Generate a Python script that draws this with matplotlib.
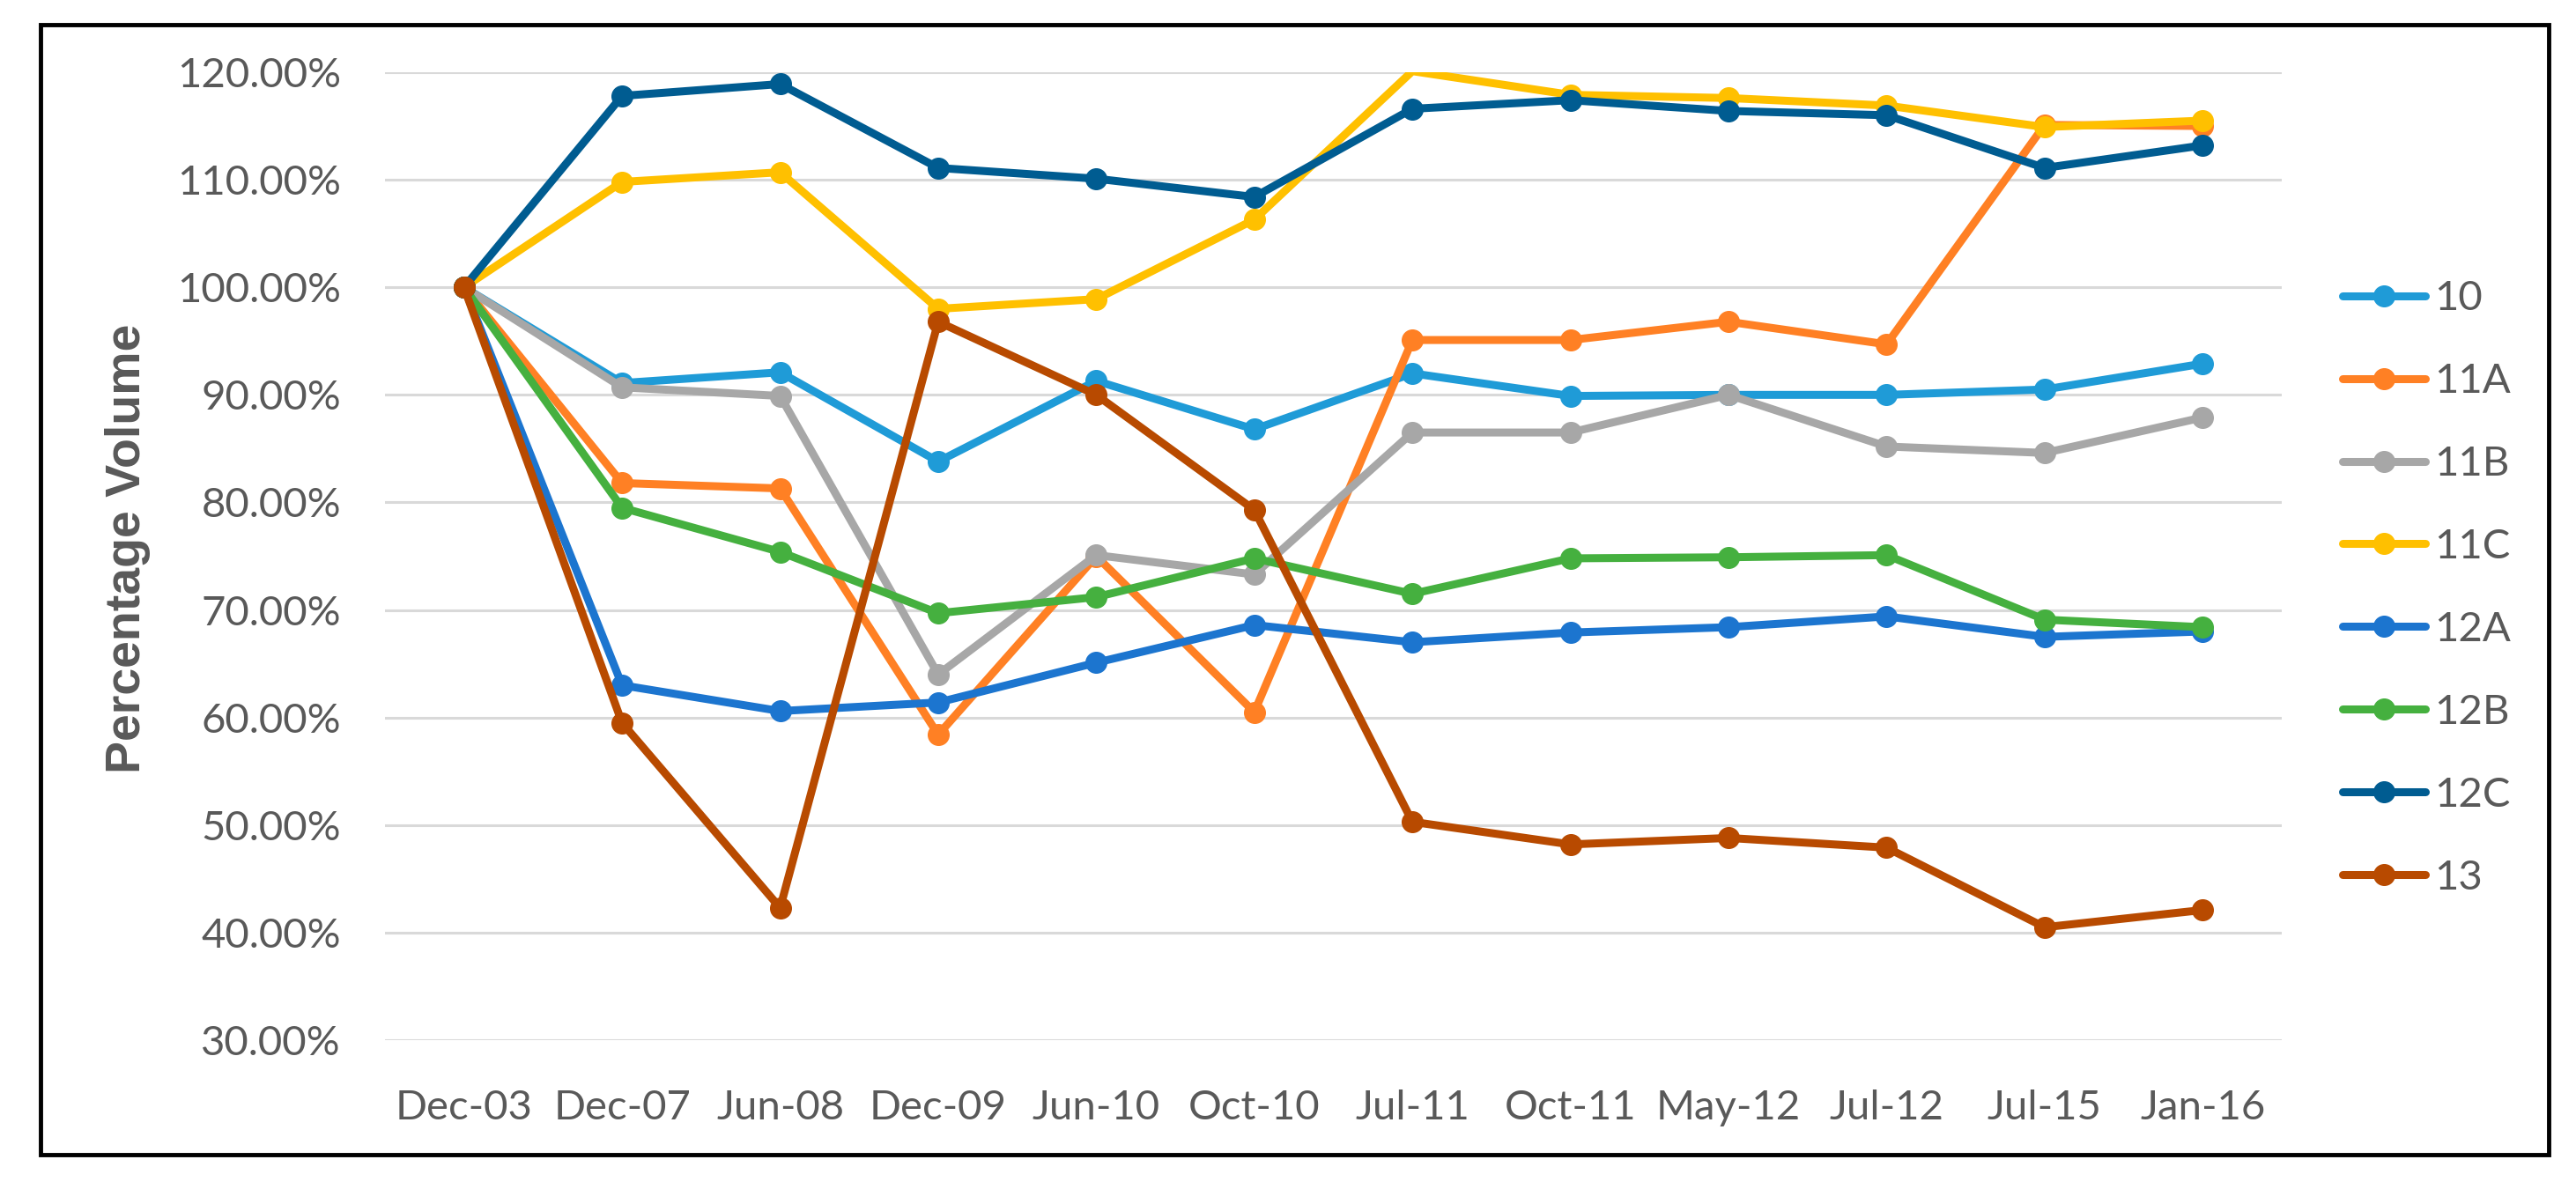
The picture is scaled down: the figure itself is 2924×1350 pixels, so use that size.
import matplotlib
matplotlib.use("Agg")
import matplotlib.pyplot as plt
from matplotlib.ticker import PercentFormatter
from matplotlib.patches import Rectangle

# x categories
dates = ["Dec-03", "Dec-07", "Jun-08", "Dec-09", "Jun-10", "Oct-10",
         "Jul-11", "Oct-11", "May-12", "Jul-12", "Jul-15", "Jan-16"]

# series values (fraction of Dec-03 volume)
s10 = [1.00, 0.911, 0.921, 0.838, 0.913, 0.868, 0.920, 0.899, 0.900, 0.900, 0.905, 0.929]
s11a = [1.00, 0.818, 0.813, 0.584, 0.750, 0.605, 0.951, 0.951, 0.968, 0.947, 1.151, 1.150]
s11b = [1.00, 0.907, 0.899, 0.640, 0.751, 0.733, 0.865, 0.865, 0.900, 0.852, 0.846, 0.879]
s11c = [1.00, 1.098, 1.107, 0.980, 0.989, 1.063, 1.201, 1.179, 1.176, 1.169, 1.149, 1.155]
s12a = [1.00, 0.630, 0.606, 0.614, 0.651, 0.686, 0.670, 0.679, 0.684, 0.694, 0.675, 0.680]
s12b = [1.00, 0.795, 0.754, 0.697, 0.712, 0.748, 0.715, 0.748, 0.749, 0.751, 0.691, 0.684]
s12c = [1.00, 1.178, 1.189, 1.111, 1.101, 1.084, 1.166, 1.174, 1.164, 1.160, 1.111, 1.132]
s13 = [1.00, 0.595, 0.423, 0.968, 0.900, 0.793, 0.503, 0.482, 0.488, 0.479, 0.405, 0.421]

labels = ["10", "11A", "11B", "11C", "12A", "12B", "12C", "13"]
series = [s10, s11a, s11b, s11c, s12a, s12b, s12c, s13]
colors = ["#1F9BD7", "#FF8024", "#A7A7A7", "#FFC000",
          "#1C75CF", "#45B03F", "#005C91", "#B84A00"]

W, H = 2924, 1350
YMIN, YMAX = 0.3, 1.2
fig = plt.figure(figsize=(W / 100, H / 100), dpi=100)
plt.rcParams["font.family"] = ["Lato", "DejaVu Sans"]

# plot area in pixels: left 437, right 2590, top 82, bottom 1181
ax = fig.add_axes([437 / W, 1 - 1181 / H, (2590 - 437) / W, (1181 - 82) / H])

x = list(range(len(dates)))
for vals, lab, col in zip(series, labels, colors):
    # like Excel, no marker for points beyond the axis maximum
    shown = [i for i, v in enumerate(vals) if v <= YMAX]
    ax.plot(x, vals, color=col, lw=6.5, marker="o", ms=17, label=lab,
            markevery=shown, solid_joinstyle="round", solid_capstyle="round")

ax.set_xlim(-0.5, len(dates) - 0.5)
ax.set_ylim(YMIN, YMAX)
ax.set_yticks([0.3, 0.4, 0.5, 0.6, 0.7, 0.8, 0.9, 1.0, 1.1, 1.2])
ax.yaxis.set_major_formatter(PercentFormatter(1.0, decimals=2))
ax.set_xticks(x)
ax.set_xticklabels(dates)

ax.grid(axis="y", color="#D9D9D9", lw=2.2)
ax.set_axisbelow(True)
for sp in ax.spines.values():
    sp.set_visible(False)
ax.tick_params(axis="both", length=0, labelsize=34, labelcolor="#595959")
ax.tick_params(axis="y", pad=36)
ax.tick_params(axis="x", pad=40)

fig.text(145 / W, 1 - 623 / H, "Percentage Volume", rotation=90,
         ha="center", va="center", fontsize=40, fontweight="bold",
         color="#595959", family=["Liberation Sans", "DejaVu Sans"])

leg = fig.legend(loc="center left", bbox_to_anchor=(2659 / W, 1 - 668 / H),
                 frameon=False, fontsize=34, handlelength=2.0,
                 handletextpad=0.2, labelspacing=1.1, borderpad=0,
                 borderaxespad=0)
for t in leg.get_texts():
    t.set_color("#595959")

# outer frame
fig.add_artist(Rectangle((46 / W, 1 - 1311 / H), (2893 - 46) / W, (1311 - 28) / H,
                         transform=fig.transFigure, fill=False,
                         edgecolor="black", lw=3.5))

fig.savefig("out.png", dpi=100)
